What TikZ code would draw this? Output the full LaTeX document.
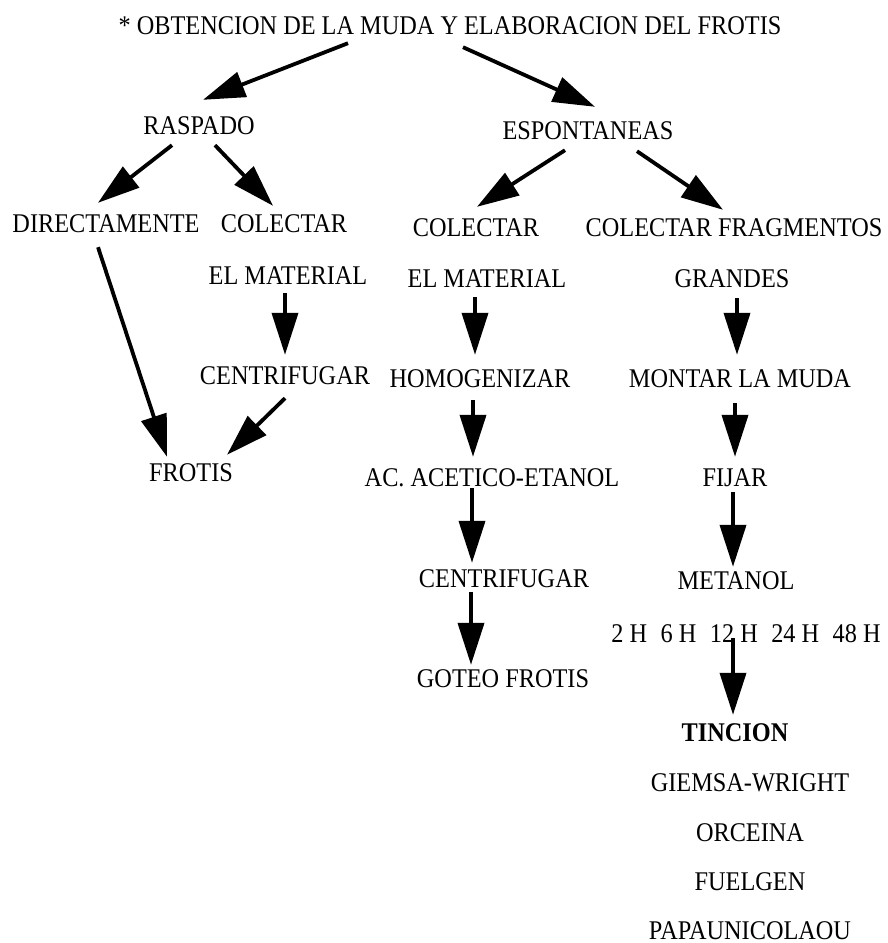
\documentclass[tikz,border=0pt]{standalone}
\usepackage{fontspec}
\setmainfont{Liberation Serif}[FakeStretch=0.9]
\usetikzlibrary{arrows.meta}

\tikzset{
  paso/.style={inner sep=0pt, text height=18pt, text depth=0pt,
    font=\fontsize{27}{30}\selectfont},
  flecha/.style={->, line width=3.8pt}
}

\begin{document}
\begin{tikzpicture}[x=1pt,y=-1pt,>={Triangle[length=42pt,width=26pt]}]
    % page frame
    \useasboundingbox (0,0) rectangle (887,943);

    % title and the two ways of getting the moult
    \node[paso] (title) at (450,25) {* OBTENCION DE LA MUDA Y ELABORACION DEL FROTIS};
    \node[paso] (rasp) at (199,125) {RASPADO};
    \node[paso] (espo) at (588,130) {ESPONTANEAS};

    % left branch
    \node[paso] (direc) at (106,223) {DIRECTAMENTE};
    \node[paso] (col1) at (284,223) {COLECTAR};
    \node[paso] (mat1) at (288,275) {EL MATERIAL};
    \node[paso] (cent1) at (285,375) {CENTRIFUGAR};
    \node[paso] (frotis) at (191,472) {FROTIS};

    % middle branch
    \node[paso] (col2) at (476,227) {COLECTAR};
    \node[paso] (mat2) at (487,278) {EL MATERIAL};
    \node[paso] (homog) at (480,378) {HOMOGENIZAR};
    \node[paso] (acetico) at (492,477) {AC. ACETICO-ETANOL};
    \node[paso] (cent2) at (504,578) {CENTRIFUGAR};
    \node[paso] (goteo) at (503,678) {GOTEO FROTIS};

    % right branch
    \node[paso] (colfrag) at (734,227) {COLECTAR FRAGMENTOS};
    \node[paso] (grandes) at (732,278) {GRANDES};
    \node[paso] (montar) at (740,378) {MONTAR LA MUDA};
    \node[paso] (fijar) at (735,477) {FIJAR};
    \node[paso] (metanol) at (736,580) {METANOL};
    \node[paso] (horas) at (746,633) {2 H\enspace 6 H\enspace 12 H\enspace 24 H\enspace 48 H};
    \node[paso, font=\fontsize{27}{30}\selectfont\bfseries] (tincion) at (735,732) {TINCION};

    % the stains
    \foreach \y/\name/\txt in {
      782/giemsa/GIEMSA-WRIGHT,
      832/orceina/ORCEINA,
      881/fuelgen/FUELGEN,
      930/papa/PAPAUNICOLAOU}
    \node[paso] (\name) at (750,\y) {\txt};

    % arrows: start node, shift, end node, shift
    \foreach \a/\ax/\ay/\b/\bx/\by in {
      title.south/-102/9/rasp.north/4/-16,
      title.south/13/13/espo.north/7/-14,
      rasp.south/-27/11/direc.north/-8/-11,
      rasp.south/16/11/col1.north/-11/-8,
      espo.south/-23/11/col2.north/1/-11,
      espo.south/49/12/colfrag.north/-11/-8,
      mat1.south/-3/9/cent1.north/0/-11,
      mat2.south/-12/10/homog.north/-5/-14,
      grandes.south/5/11/montar.north/-3/-14,
      direc.south/-8/15/frotis.north/-24/-6,
      cent1.south/0/14/frotis.north/36/-8,
      homog.south/-7/13/acetico.north/-19/-11,
      montar.south/-5/16/fijar.north/0/-11,
      acetico.south/-20/2/cent2.north/-32/-6,
      fijar.south/-2/6/metanol.north/-3/-4,
      cent2.south/-33/5/goteo.north/-32/-4,
      horas.south/-13/-4/tincion.north/-2/-8}
    \draw[flecha] ([shift={(\ax,\ay)}]\a) -- ([shift={(\bx,\by)}]\b);
\end{tikzpicture}
\end{document}
